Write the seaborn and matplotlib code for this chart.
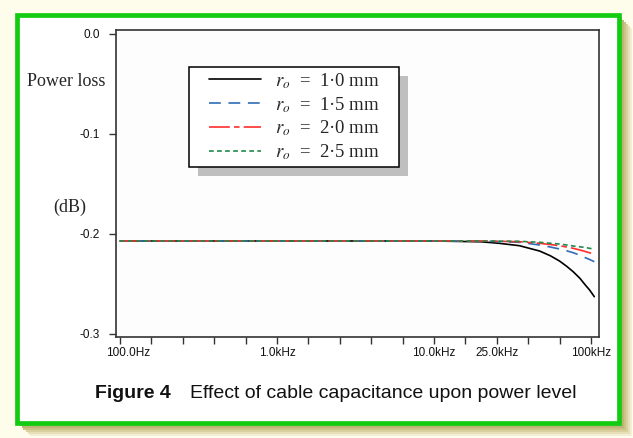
import matplotlib
matplotlib.use("Agg")
import matplotlib.pyplot as plt
from matplotlib.patches import Rectangle
from matplotlib.ticker import FixedLocator, FixedFormatter, NullLocator
from matplotlib.transforms import ScaledTranslation
import seaborn as sns
import pandas as pd

# ---- data ----
freq_hz = [100, 1000, 10000, 20000, 26000, 35000, 47000, 55000, 63000, 70000, 77000,
           85000, 92000, 98000, 105000]
loss_r10 = [-0.207, -0.207, -0.207, -0.2078, -0.2093, -0.2117, -0.2170, -0.2217, -0.2270,
            -0.2323, -0.2377, -0.2443, -0.2510, -0.2560, -0.2627]
loss_r15 = [-0.207, -0.207, -0.207, -0.2072, -0.2076, -0.2083, -0.2110, -0.2130, -0.2150,
            -0.2168, -0.2187, -0.2212, -0.2237, -0.2255, -0.2277]
loss_r20 = [-0.207, -0.207, -0.207, -0.2070, -0.2073, -0.2077, -0.2093, -0.2105, -0.2117,
            -0.2130, -0.2143, -0.2160, -0.2175, -0.2188, -0.2203]
loss_r25 = [-0.207, -0.207, -0.207, -0.2070, -0.2071, -0.2073, -0.2083, -0.2092, -0.2100,
            -0.2110, -0.2120, -0.2128, -0.2135, -0.2143, -0.2153]
series_names = ["1.0", "1.5", "2.0", "2.5"]
legend_labels = [r"$r_{o}$  =  1·0 mm", r"$r_{o}$  =  1·5 mm",
                 r"$r_{o}$  =  2·0 mm", r"$r_{o}$  =  2·5 mm"]
ytick_vals = [0.0, -0.1, -0.2, -0.3]
ytick_labels = ["0.0", "-0.1", "-0.2", "-0.3"]
xtick_exps = [2 + 0.2 * i for i in range(16)]
xtick_labels = ["100.0Hz", "", "", "", "", "1.0kHz", "", "", "", "",
                "10.0kHz", "", "25.0kHz", "", "", "100kHz"]

rows = []
for name, vals in zip(series_names, [loss_r10, loss_r15, loss_r20, loss_r25]):
    for f, v in zip(freq_hz, vals):
        rows.append({"freq": f, "loss": v, "r": name})
df = pd.DataFrame(rows)

sns.set_style("ticks")
plt.rcParams["font.family"] = ["Liberation Sans", "DejaVu Sans"]
plt.rcParams["mathtext.fontset"] = "stix"
plt.rcParams["lines.scale_dashes"] = False

W, H = 633, 438
fig = plt.figure(figsize=(W / 100, H / 100), dpi=100)
fig.patch.set_facecolor("#fefcea")

def fx(x):
    return x / W

def fy(y):
    return 1 - y / H

# olive drop shadow behind the frame (light outer to dark inner)
shadow = [(13, "#f3efd6"), (11, "#e6dfb8"), (9, "#d8d09e"), (7, "#cbc288"),
          (5, "#beb477"), (3, "#b3a96c")]
for i, (d, c) in enumerate(shadow):
    fig.patches.append(Rectangle((fx(16.5 + d), fy(423 + d)), fx(618.5 - 16.5), (423 - 15) / H,
                                 transform=fig.transFigure, facecolor=c,
                                 edgecolor="none", zorder=-20 + i))
# green frame
fig.patches.append(Rectangle((fx(16.5), fy(423)), fx(618.5 - 16.5), (423 - 15) / H,
                             transform=fig.transFigure, facecolor="white",
                             edgecolor="#12cc12", linewidth=3.4, zorder=-10))

ax = fig.add_axes([fx(116), fy(337), fx(599 - 116), (337 - 30) / H])
ax.set_facecolor("#fdfdfd")

palette = {"1.0": "#000000", "1.5": "#2f6db5", "2.0": "#ff2e2e", "2.5": "#1f8a4c"}
dashes = {"1.0": "", "1.5": (8.5, 5.5), "2.0": (15, 3, 4, 3), "2.5": (3.4, 2.4)}
sns.lineplot(data=df, x="freq", y="loss", hue="r", style="r", palette=palette,
             dashes=dashes, hue_order=series_names, style_order=series_names,
             linewidth=1.2, legend=False, ax=ax)

ax.set_xscale("log")
ax.set_xlim(10 ** 1.9745, 10 ** 5.051)
ax.set_ylim(-0.303, 0.004)
ax.xaxis.set_major_locator(FixedLocator([10 ** e for e in xtick_exps]))
ax.xaxis.set_major_formatter(FixedFormatter(xtick_labels))
ax.xaxis.set_minor_locator(NullLocator())
ax.set_yticks(ytick_vals)
ax.set_yticklabels(ytick_labels)
ax.set_xlabel("")
ax.set_ylabel("")
for s in ax.spines.values():
    s.set_visible(True)
    s.set_linewidth(1.2)
    s.set_color("#333333")
ax.tick_params(axis="both", direction="out", length=5, width=1.0, color="#333333",
               labelsize=8.5, labelcolor="#111111")
ax.tick_params(axis="y", pad=6.5)
ax.tick_params(axis="x", pad=2.5)

# nudge the first x label to the right as in the original
first_lab = ax.xaxis.get_major_ticks()[0].label1
first_lab.set_transform(first_lab.get_transform() +
                        ScaledTranslation(8 / 100, 0, fig.dpi_scale_trans))

# legend box with shadow
def ax_x(px):
    return (px - 116) / (599 - 116)

def ax_y(py):
    return (337 - py) / (337 - 30)

ax.add_patch(Rectangle((ax_x(198), ax_y(176)), ax_x(399) - ax_x(189), ax_y(67) - ax_y(167),
                       transform=ax.transAxes, facecolor="#bfbfbf", edgecolor="none",
                       zorder=3.8))
ax.add_patch(Rectangle((ax_x(189), ax_y(167)), ax_x(399) - ax_x(189), ax_y(67) - ax_y(167),
                       transform=ax.transAxes, facecolor="white", edgecolor="black",
                       linewidth=1.1, zorder=3.9))
handles = ax.get_lines()[:4]
leg = ax.legend(handles, legend_labels, loc="upper left",
                bbox_to_anchor=(ax_x(209), ax_y(71)), frameon=False, borderpad=0,
                borderaxespad=0, handlelength=2.75, handletextpad=0.75,
                labelspacing=0.22,
                prop={"family": ["Liberation Serif", "DejaVu Serif"], "size": 13.5})
leg.set_zorder(5)

# axis annotations
fig.text(fx(27), fy(82), "Power loss", family=["Liberation Serif"], fontsize=13,
         ha="left", va="center")
fig.text(fx(53), fy(207), "(dB)", family=["Liberation Serif"], fontsize=13,
         ha="left", va="center")

# caption
fig.text(fx(95), fy(394), "Figure 4", fontsize=14, fontweight="bold",
         ha="left", va="center", color="#111111")
fig.text(fx(190), fy(394), "Effect of cable capacitance upon power level",
         fontsize=14, ha="left", va="center", color="#111111")

fig.savefig("out.png", dpi=100, facecolor=fig.get_facecolor())
